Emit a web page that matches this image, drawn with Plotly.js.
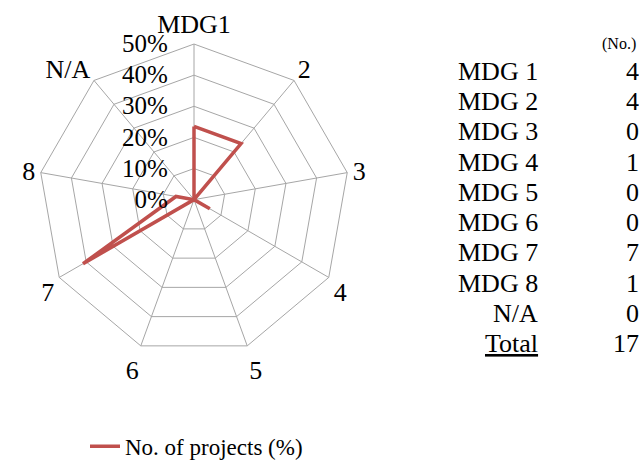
<!DOCTYPE html>
<html>
<head>
<meta charset="utf-8">
<script src="https://cdn.plot.ly/plotly-3.0.1.min.js"></script>
<style>html,body{margin:0;padding:0;background:#fff;}#chart{width:639px;height:468px;}</style>
</head>
<body>
<div id="chart"></div>
<script>
const categories = ["MDG1", "2", "3", "4", "5", "6", "7", "8", "N/A"];
const tableLabels = ["MDG 1", "MDG 2", "MDG 3", "MDG 4", "MDG 5", "MDG 6", "MDG 7", "MDG 8", "N/A"];
const counts = [4, 4, 0, 1, 0, 0, 7, 1, 0];
const total = 17;
const radialTicks = [0, 10, 20, 30, 40, 50];
const seriesName = "No. of projects (%)";

const pct = counts.map(c => c / total * 100);

const font = "Liberation Serif, Times New Roman, serif";
const trace = {
  type: "scatterpolar",
  r: pct.concat([pct[0]]),
  theta: categories.concat([categories[0]]),
  mode: "lines",
  name: seriesName,
  line: {color: "#C0504D", width: 3.5},
  showlegend: true
};

const annotations = [];
const rowY0 = 73, rowStep = 30.9;
annotations.push({xref: "paper", yref: "paper", x: 638/639, y: 1 - 45/468, text: "(No.)", showarrow: false,
  xanchor: "right", yanchor: "middle", font: {family: font, size: 16, color: "#000"}});
tableLabels.forEach((lab, i) => {
  const y = 1 - (rowY0 + i * rowStep) / 468;
  annotations.push({xref: "paper", yref: "paper", x: 540/639, y: y, text: lab, showarrow: false,
    xanchor: "right", yanchor: "middle", font: {family: font, size: 26, color: "#000"}});
  annotations.push({xref: "paper", yref: "paper", x: 1, y: y, text: String(counts[i]), showarrow: false,
    xanchor: "right", yanchor: "middle", xshift: 2, font: {family: font, size: 26, color: "#000"}});
});
const totY = 1 - (rowY0 + 9 * rowStep) / 468;
annotations.push({xref: "paper", yref: "paper", x: 540/639, y: totY, text: "<u>Total</u>", showarrow: false,
  xanchor: "right", yanchor: "middle", font: {family: font, size: 26, color: "#000"}});
annotations.push({xref: "paper", yref: "paper", x: 1, y: totY, text: String(total), showarrow: false,
  xanchor: "right", yanchor: "middle", xshift: 2, font: {family: font, size: 26, color: "#000"}});

const layout = {
  width: 639, height: 468,
  margin: {l: 0, r: 0, t: 0, b: 0},
  paper_bgcolor: "#fff",
  plot_bgcolor: "#fff",
  font: {family: font, size: 24, color: "#000"},
  polar: {
    domain: {x: [35/639, 353/639], y: [105/468, 423/468]},
    gridshape: "linear",
    bgcolor: "#fff",
    angularaxis: {
      type: "category",
      rotation: 90, direction: "clockwise",
      categoryorder: "array", categoryarray: categories,
      showline: true, linecolor: "#A6A6A6", linewidth: 1,
      gridcolor: "#A6A6A6", gridwidth: 1,
      ticks: "", tickfont: {family: font, size: 26, color: "#000"}
    },
    radialaxis: {
      range: [0, 50], angle: 90, side: "counterclockwise",
      tickvals: radialTicks, ticktext: radialTicks.map(v => v + "%"),
      showline: false, ticks: "outside", ticklen: 17, tickcolor: "rgba(0,0,0,0)", tickangle: 90,
      gridcolor: "#A6A6A6", gridwidth: 1,
      tickfont: {family: font, size: 25, color: "#000"}
    }
  },
  showlegend: true,
  legend: {x: 85/639, y: 1 - 434/468, xanchor: "left", yanchor: "top",
    font: {family: font, size: 23, color: "#000"}, bgcolor: "rgba(0,0,0,0)"},
  annotations: annotations
};

Plotly.newPlot("chart", [trace], layout, {displayModeBar: false, staticPlot: true});
</script>
</body>
</html>
